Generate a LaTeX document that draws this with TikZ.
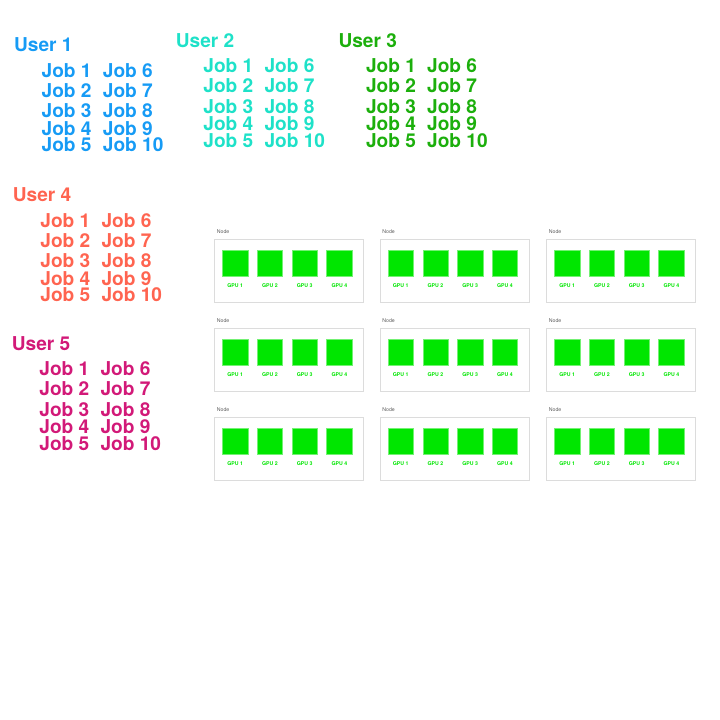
\documentclass[tikz,border=0pt]{standalone}
\usepackage{fontspec}
\setmainfont{TeX Gyre Heros}
\usetikzlibrary{positioning}
\definecolor{userA}{RGB}{22,155,245}
\definecolor{userB}{RGB}{30,225,200}
\definecolor{userC}{RGB}{28,175,12}
\definecolor{userD}{RGB}{255,100,80}
\definecolor{userE}{RGB}{210,25,120}
\definecolor{gpugreen}{RGB}{0,230,0}
\definecolor{boxgrey}{RGB}{220,220,220}
\definecolor{labelgrey}{RGB}{90,90,90}
\tikzset{
  user/.style={anchor=west,inner sep=0pt,font=\bfseries\fontsize{19.1}{20}\selectfont},
  job/.style={user},
  server/.style={draw=boxgrey,line width=0.9pt,minimum width=149pt,minimum height=63.5pt,anchor=north west,inner sep=0pt},
  gpu/.style={draw=gpugreen!55!white,line width=0.5pt,fill=gpugreen,minimum size=25.4pt,inner sep=0pt,anchor=north west},
  gpulabel/.style={text=gpugreen,font=\bfseries\fontsize{5.2}{6}\selectfont,inner sep=0pt},
  nodelabel/.style={text=labelgrey,font=\fontsize{5.2}{6}\selectfont,anchor=west,inner sep=0pt}
}
\begin{document}
\begin{tikzpicture}[x=1pt,y=-1pt]
\useasboundingbox (0,0) rectangle (720,720);
% users and their jobs
\foreach \u/\c/\x/\y in {1/userA/14/45, 2/userB/175.7/40.7, 3/userC/338.3/40.3, 4/userD/12.7/195, 5/userE/11.7/343.3}{
  \node[user,text=\c] (U\u) at (\x,\y) {User \u};
  \foreach \j/\dy in {1/25.3,2/45.3,3/66,4/83.3,5/100}{
    \pgfmathtruncatemacro\k{\j+5}
    \node[job,text=\c] (U\u-J\j) at (\x+27.5,\y+\dy) {Job \j};
    \node[job,text=\c] (U\u-J\k) at (\x+88.7,\y+\dy) {Job \k};
  }
}
% cluster nodes with four gpus each
\foreach \r/\y in {1/238.7,2/327.7,3/416.7}{
  \foreach \s/\x in {1/214,2/379.5,3/546}{
    \node[server] (N\r\s) at (\x,\y) {};
    \node[nodelabel] (N\r\s-lbl) at (\x+2.7,\y-6.7) {Node};
    \foreach \g in {1,...,4}{
      \node[gpu] (N\r\s-G\g) at (\x+8.3+34.7*\g-34.7,\y+11.6) {};
      \node[gpulabel,below=7.1pt of N\r\s-G\g] (N\r\s-L\g) {GPU \g};
    }
  }
}
\end{tikzpicture}
\end{document}
